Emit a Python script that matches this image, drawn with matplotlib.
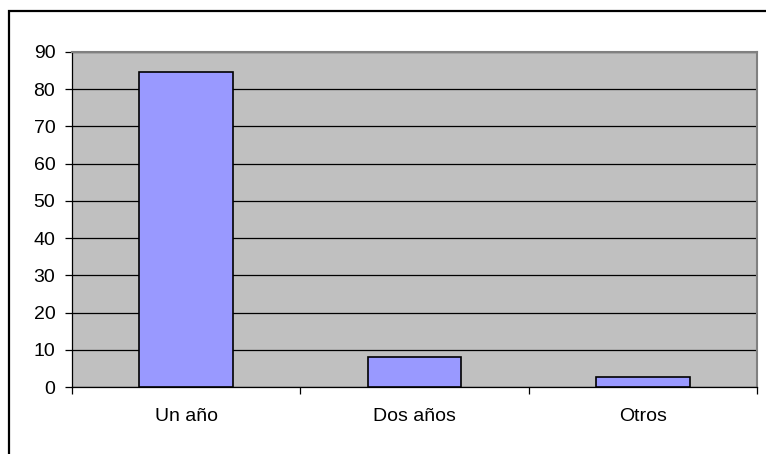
import matplotlib.pyplot as plt
from matplotlib.patches import Rectangle

plt.rcParams['font.family'] = ['Liberation Sans', 'DejaVu Sans']

categories = ["Un año", "Dos años", "Otros"]
values = [84.6, 8.0, 2.6]
yticks = [0, 10, 20, 30, 40, 50, 60, 70, 80, 90]

fig = plt.figure(figsize=(7.66, 4.54), dpi=100)

# outer chart border (only top and left visible in the original)
fig.patches.append(Rectangle((8.5 / 766, -0.5), 2.0, 1.5 - 11 / 454,
                             transform=fig.transFigure, fill=False,
                             edgecolor='black', linewidth=1.6, zorder=0))

ax = fig.add_axes([72 / 766, 1 - 387 / 454, 685 / 766, 335 / 454])
ax.set_facecolor('#C0C0C0')

x = range(len(categories))
ax.bar(x, values, width=0.41, color='#9999FF', edgecolor='black',
       linewidth=1.2, zorder=3)

ax.set_xlim(-0.5, len(categories) - 0.5)
ax.set_ylim(0, 90)
ax.set_yticks(yticks)
ax.yaxis.grid(True, color='black', linewidth=0.9, zorder=1)
ax.set_axisbelow(True)

ax.set_xticks([i - 0.5 for i in range(len(categories) + 1)])
ax.set_xticklabels([])
ax.set_xticks(list(x), minor=True)
ax.set_xticklabels(categories, minor=True)
ax.tick_params(axis='x', which='minor', length=0, pad=15, labelsize=14)
ax.tick_params(axis='x', which='major', length=5, width=0.9, direction='out')
ax.tick_params(axis='y', length=5, width=0.9, direction='out', pad=7, labelsize=14)

for side in ['top', 'right']:
    ax.spines[side].set_color('#808080')
    ax.spines[side].set_linewidth(1.5)
for side in ['left', 'bottom']:
    ax.spines[side].set_color('black')
    ax.spines[side].set_linewidth(0.9)

fig.savefig('out.png', dpi=100)
